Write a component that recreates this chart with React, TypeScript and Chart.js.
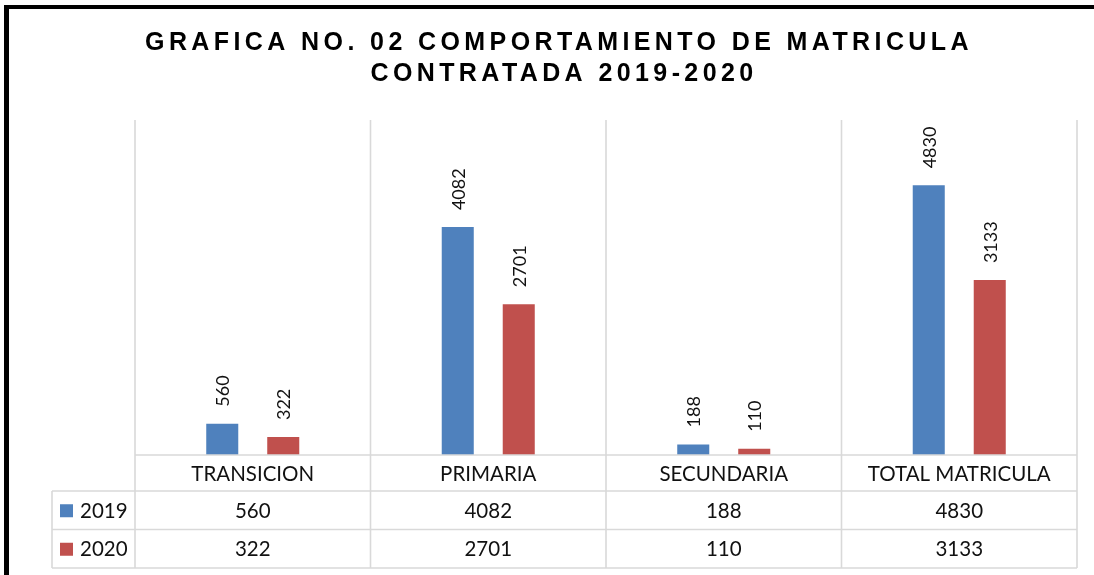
import React, { useEffect, useRef } from "react";
import { Chart, registerables } from "chart.js";

Chart.register(...registerables);

const categories = ["TRANSICION", "PRIMARIA", "SECUNDARIA", "TOTAL MATRICULA"];
const seriesNames = ["2019", "2020"];
const values2019 = [560, 4082, 188, 4830];
const values2020 = [322, 2701, 110, 3133];
const seriesColors = ["#4F81BD", "#C0504D"];
const titleLines = ["GRAFICA NO. 02 COMPORTAMIENTO DE MATRICULA", "CONTRATADA 2019-2020"];
const yMax = 6000;

const W = 1094;
const H = 575;

const tablePlugin = {
  id: "excelTable",
  afterDraw(chart: any) {
    const ctx = chart.ctx as CanvasRenderingContext2D;
    const area = chart.chartArea;
    const xScale = chart.scales.x;
    const n = categories.length;
    const cw = (area.right - area.left) / n;
    const tableLeft = 52;
    const catRowBottom = area.bottom + 36;
    const row1Bottom = catRowBottom + 38.5;
    const row2Bottom = row1Bottom + 38.5;
    const rowsY = [catRowBottom, row1Bottom, row2Bottom];

    ctx.save();
    // frame border (black, top + left)
    ctx.fillStyle = "#000";
    ctx.fillRect(4, 5, W - 4, 4);
    ctx.fillRect(4, 5, 5, H - 5);

    // title
    ctx.fillStyle = "#000";
    ctx.font = 'bold 25px "Liberation Sans", Arial, sans-serif';
    (ctx as any).letterSpacing = "4.4px";
    ctx.textAlign = "center";
    ctx.textBaseline = "middle";
    ctx.fillText(titleLines[0], 559, 43);
    ctx.fillText(titleLines[1], 564, 74);
    (ctx as any).letterSpacing = "0px";

    // grid / table lines
    ctx.strokeStyle = "#D9D9D9";
    ctx.lineWidth = 1.6;
    ctx.beginPath();
    for (let i = 0; i <= n; i++) {
      const x = area.left + i * cw;
      ctx.moveTo(x, area.top);
      ctx.lineTo(x, row2Bottom);
    }
    ctx.moveTo(area.left, area.bottom);
    ctx.lineTo(area.right, area.bottom);
    for (const y of rowsY) {
      ctx.moveTo(tableLeft, y);
      ctx.lineTo(area.right, y);
    }
    ctx.moveTo(tableLeft, catRowBottom);
    ctx.lineTo(tableLeft, row2Bottom);
    ctx.stroke();

    // table text
    ctx.fillStyle = "#111";
    ctx.font = '20.5px Lato, "Open Sans", sans-serif';
    ctx.textAlign = "center";
    ctx.textBaseline = "middle";
    const catY = (area.bottom + catRowBottom) / 2 + 1;
    const r1Y = (catRowBottom + row1Bottom) / 2 + 1;
    const r2Y = (row1Bottom + row2Bottom) / 2 + 1;
    const rowCenters = [r1Y, r2Y];
    const seriesVals = [values2019, values2020];
    categories.forEach((c, i) => {
      const x = xScale.getPixelForValue(i);
      ctx.fillText(c, x, catY);
      ctx.fillText(String(seriesVals[0][i]), x, r1Y);
      ctx.fillText(String(seriesVals[1][i]), x, r2Y);
    });
    // legend keys
    ctx.textAlign = "left";
    seriesNames.forEach((s, k) => {
      ctx.fillStyle = seriesColors[k];
      ctx.fillRect(60, rowCenters[k] - 7, 13, 13);
      ctx.fillStyle = "#111";
      ctx.fillText(s, 80, rowCenters[k]);
    });

    // data labels
    ctx.font = '18px Lato, "Open Sans", sans-serif';
    ctx.textBaseline = "middle";
    ctx.textAlign = "left";
    chart.data.datasets.forEach((ds: any, di: number) => {
      const meta = chart.getDatasetMeta(di);
      meta.data.forEach((bar: any, i: number) => {
        ctx.save();
        ctx.translate(bar.x, bar.y - 17);
        ctx.rotate(-Math.PI / 2);
        ctx.fillStyle = "#111";
        ctx.fillText(String(ds.data[i]), 0, 1);
        ctx.restore();
      });
    });
    ctx.restore();
  },
};

export default function App() {
  const ref = useRef<HTMLCanvasElement | null>(null);
  useEffect(() => {
    if (!ref.current) return;
    const chart = new Chart(ref.current, {
      type: "bar",
      data: {
        labels: categories,
        datasets: [
          { label: seriesNames[0], data: values2019, backgroundColor: seriesColors[0], categoryPercentage: 0.518, barPercentage: 0.525 },
          { label: seriesNames[1], data: values2020, backgroundColor: seriesColors[1], categoryPercentage: 0.518, barPercentage: 0.525 },
        ],
      },
      options: {
        responsive: false,
        maintainAspectRatio: false,
        animation: false,
        layout: { padding: { left: 135, right: 17, top: 120, bottom: 120 } },
        scales: {
          x: { display: false },
          y: { display: false, min: 0, max: yMax },
        },
        plugins: {
          legend: { display: false },
          tooltip: { enabled: false },
          title: { display: false },
        },
      },
      plugins: [tablePlugin],
    });
    return () => chart.destroy();
  }, []);
  return (
    <div style={{ position: "absolute", left: 0, top: 0, width: W, height: H, background: "#fff" }}>
      <canvas ref={ref} width={W} height={H} style={{ display: "block", width: W, height: H }} />
    </div>
  );
}
